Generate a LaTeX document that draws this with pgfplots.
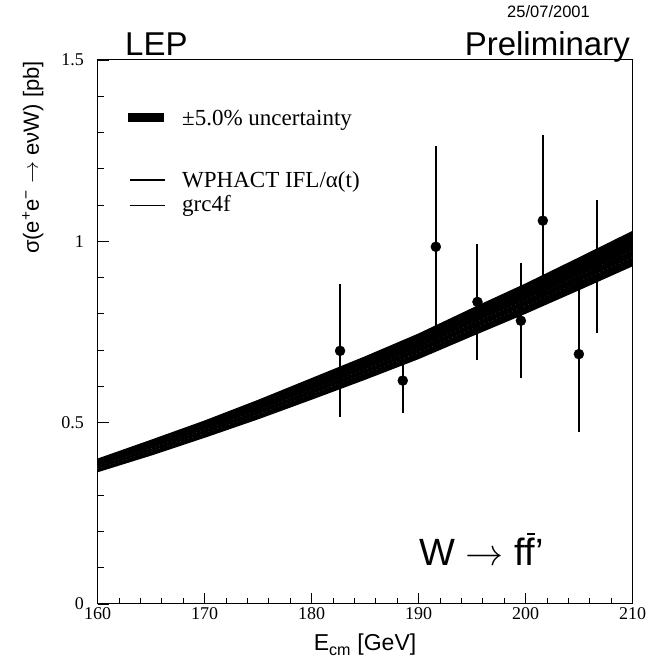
\documentclass[border=0pt]{standalone}
\usepackage{fontspec}
\usepackage{unicode-math}
\setmainfont{Liberation Serif}
\newfontfamily\hel{Liberation Sans}
\usepackage{pgfplots}
\pgfplotsset{compat=1.18}
\usepgfplotslibrary{fillbetween}
\begin{document}
\begin{tikzpicture}
\begin{axis}[
 scale only axis, width=535pt, height=544pt,
 xmin=160, xmax=210, ymin=0, ymax=1.5,
 xtick={160,170,...,210}, ytick={0,0.5,1,1.5},
 minor x tick num=4, minor y tick num=4,
 tick align=inside, xtick pos=bottom, ytick pos=left,
 major tick length=11pt, minor tick length=6pt,
 tick style={black, line width=0.8pt},
 axis line style={line width=1pt},
 /pgf/number format/assume math mode=true,
 ticklabel style={font=\fontsize{18}{18}\selectfont},
 yticklabel style={xshift=-10pt},
 clip=false,
]
% invisible bounding box
\path (rel axis cs:0,0) ++(-97.5pt,-67pt) rectangle (rel axis cs:1,1) ++(23.7pt,60pt);

\addplot[name path=up, draw=none, forget plot] coordinates {
(160,0.401) (165,0.453) (170,0.506) (175,0.563) (180,0.623) (185,0.683)
(190,0.746) (195,0.816) (200,0.884) (205,0.956) (210,1.029)};
\addplot[name path=lo, draw=none, forget plot] coordinates {
(160,0.363) (165,0.409) (170,0.458) (175,0.509) (180,0.563) (185,0.618)
(190,0.675) (195,0.738) (200,0.800) (205,0.865) (210,0.931)};
\addplot[black, forget plot] fill between[of=up and lo];

% generator curves (inside band)
\addplot[black!55, line width=0.35pt, loosely dotted, forget plot] coordinates {
(160,0.380) (165,0.429) (170,0.480) (175,0.533) (180,0.590) (185,0.647)
(190,0.706) (195,0.773) (200,0.838) (205,0.905) (210,0.975)};
\addplot[black!45, line width=0.35pt, loosely dotted, forget plot] coordinates {
(160,0.373) (165,0.421) (170,0.471) (175,0.523) (180,0.579) (185,0.635)
(190,0.693) (195,0.758) (200,0.822) (205,0.888) (210,0.956)};

% data
\addplot[only marks, mark=*, mark size=5pt, black,
 error bars/.cd, y dir=both, y explicit,
 error bar style={line width=2pt}, error mark=none]
 table[x=x, y=y, y error=e] {
x y e
182.67 0.698 0.183
188.53 0.616 0.089
191.62 0.985 0.278
195.51 0.833 0.160
199.57 0.781 0.158
201.62 1.057 0.236
204.99 0.689 0.214
206.67 0.931 0.183
};

% texts
\node[anchor=base west, font=\hel\fontsize{33}{33}\selectfont, inner sep=0pt]
  at ([shift={(27.5pt,4pt)}]rel axis cs:0,1) {LEP};
\node[anchor=base east, font=\hel\fontsize{33}{33}\selectfont, inner sep=0pt]
  at ([shift={(532.5pt,4pt)}]rel axis cs:0,1) {Preliminary};
\node[anchor=base east, font=\hel\fontsize{16.5}{16.5}\selectfont, inner sep=0pt]
  at ([shift={(492.5pt,42pt)}]rel axis cs:0,1) {25/07/2001};

% legend
\fill[black] ([shift={(30pt,-53pt)}]rel axis cs:0,1) rectangle ([shift={(66pt,-62pt)}]rel axis cs:0,1);
\node[anchor=base west, font=\fontsize{23}{23}\selectfont, inner sep=0pt]
  at ([shift={(84.5pt,-66pt)}]rel axis cs:0,1) {±5.0\% uncertainty};
\draw[black, line width=1.3pt] ([shift={(32pt,-120pt)}]rel axis cs:0,1) -- ([shift={(67pt,-120pt)}]rel axis cs:0,1);
\node[anchor=base west, font=\fontsize{23}{23}\selectfont, inner sep=0pt]
  at ([shift={(84.5pt,-128pt)}]rel axis cs:0,1) {WPHACT IFL/α(t)};
\draw[black, line width=0.8pt] ([shift={(32pt,-145pt)}]rel axis cs:0,1) -- ([shift={(67pt,-145pt)}]rel axis cs:0,1);
\node[anchor=base west, font=\fontsize{23}{23}\selectfont, inner sep=0pt]
  at ([shift={(84.5pt,-152pt)}]rel axis cs:0,1) {grc4f};

% axis labels
\node[anchor=base east, rotate=90, font=\hel\fontsize{22}{22}\selectfont, inner sep=0pt]
  at ([shift={(-58.5pt,-1pt)}]rel axis cs:0,1) {σ(e\textsuperscript{+}e\textsuperscript{−} $\rightarrow$ eνW) [pb]};
\node[anchor=base, font=\hel\fontsize{23}{23}\selectfont, inner sep=0pt]
  at ([shift={(267.5pt,-46pt)}]rel axis cs:0,0) {E\textsubscript{cm} [GeV]};

\node[anchor=base west, font=\hel\fontsize{38}{38}\selectfont, inner sep=0pt]
  at ([shift={(321.5pt,38pt)}]rel axis cs:0,0) {W $\rightarrow$ f\rlap{\kern0.05em\rule[0.82em]{0.22em}{0.05em}}f’};
\end{axis}
\end{tikzpicture}
\end{document}
